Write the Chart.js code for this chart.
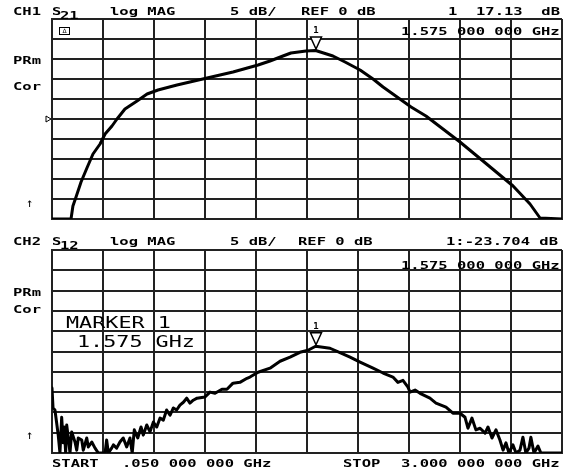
<!DOCTYPE html>
<html>
<head>
<meta charset="utf-8">
<script src="https://cdn.jsdelivr.net/npm/chart.js@4"></script>
<style>
  body { margin: 0; background: #fff; width: 565px; height: 473px; overflow: hidden; position: relative; }
  canvas { position: absolute; left: 0; }
  .t { position: absolute; font-family: 'DejaVu Sans Mono', monospace; font-size: 10px; line-height: 10px;
       font-weight: bold; white-space: pre; color: #000; transform: scaleX(1.55); transform-origin: 0 0; }
  .big { font-size: 15px; line-height: 15px; font-weight: normal; transform: scaleX(1.45); }
  .arrow { font-size: 12px; line-height: 12px; font-weight: normal; transform: none; }
  .icon { position: absolute; left: 59px; top: 27px; width: 9px; height: 6px; border: 1px solid #000;
          font: 6px/6px 'DejaVu Sans', sans-serif; text-align: center; }
</style>
</head>
<body>
<canvas id="ch1" width="565" height="235" style="top:0"></canvas>
<canvas id="ch2" width="565" height="238" style="top:235px"></canvas>

<!-- channel 1 annotations -->
<div class="t" style="left:13px;top:7px">CH1</div>
<div class="t" style="left:52px;top:7px">S</div>
<div class="t" style="left:60px;top:11px">21</div>
<div class="t" style="left:110px;top:7px">log MAG</div>
<div class="t" style="left:230px;top:7px">5 dB/</div>
<div class="t" style="left:301px;top:7px">REF 0 dB</div>
<div class="t" style="left:448px;top:7px">1  17.13  dB</div>
<div class="icon">Δ</div>
<div class="t" style="left:401px;top:27px">1.575 000 000 GHz</div>
<div class="t" style="left:13px;top:56px">PRm</div>
<div class="t" style="left:13px;top:82px">Cor</div>
<div class="t arrow" style="left:26px;top:197px">↑</div>

<!-- channel 2 annotations -->
<div class="t" style="left:13px;top:237px">CH2</div>
<div class="t" style="left:52px;top:237px">S</div>
<div class="t" style="left:60px;top:241px">12</div>
<div class="t" style="left:110px;top:237px">log MAG</div>
<div class="t" style="left:230px;top:237px">5 dB/</div>
<div class="t" style="left:298px;top:237px">REF 0 dB</div>
<div class="t" style="left:446px;top:237px">1:-23.704 dB</div>
<div class="t" style="left:401px;top:261px">1.575 000 000 GHz</div>
<div class="t" style="left:13px;top:288px">PRm</div>
<div class="t" style="left:13px;top:305px">Cor</div>
<div class="t big" style="left:66px;top:316px">MARKER 1</div>
<div class="t big" style="left:77px;top:335px">1.575 GHz</div>
<div class="t arrow" style="left:26px;top:429px">↑</div>
<div class="t" style="left:52px;top:459px">START</div>
<div class="t" style="left:122px;top:459px">.050 000 000 GHz</div>
<div class="t" style="left:343px;top:459px">STOP</div>
<div class="t" style="left:401px;top:459px">3.000 000 000 GHz</div>

<script>
// Sweep grid: 10 divisions from START to STOP (GHz)
const freqTicks = [0.05, 0.345, 0.64, 0.935, 1.23, 1.525, 1.82, 2.115, 2.41, 2.705, 3.0];
// 5 dB per division
const ch1DbTicks = [-25, -20, -15, -10, -5, 0, 5, 10, 15, 20, 25];
const ch2DbTicks = [-50, -45, -40, -35, -30, -25, -20, -15, -10, -5, 0];

// Marker 1 readouts
const marker1Freq = 1.575;
const s21Marker = 17.13;
const s12Marker = -23.704;

// S21 trace, [GHz, dB]
const s21Trace = [
  [0.050, -25], [0.160, -25], [0.171, -21.75], [0.189, -19.5], [0.218, -15.75],
  [0.252, -12.25], [0.287, -8.75], [0.328, -6.25], [0.357, -3.75], [0.397, -1.75],
  [0.426, 0], [0.472, 2.5], [0.542, 4.5], [0.600, 6.25], [0.663, 7.25],
  [0.773, 8.5], [0.947, 10.25], [1.097, 11.75], [1.242, 13.5], [1.311, 14.5],
  [1.386, 15.75], [1.432, 16.5], [1.519, 17.0], [1.575, 17.13], [1.675, 15.75],
  [1.745, 14.25], [1.832, 12.25], [1.907, 10.0], [1.965, 8.0], [2.127, 3.0],
  [2.213, 0.75], [2.410, -5.75], [2.543, -10.5], [2.717, -16.75], [2.815, -21.25],
  [2.873, -24.75], [3.000, -25]
];

// S12 trace, [GHz, dB]
const s12Trace = [
  [0.050, -34.0], [0.056, -38.9], [0.067, -39.4], [0.077, -42.6], [0.086, -45.6],
  [0.096, -50], [0.106, -41.2], [0.115, -47.5], [0.121, -43.6], [0.129, -50],
  [0.135, -43.1], [0.144, -46.1], [0.154, -50], [0.164, -44.8], [0.183, -47.3],
  [0.193, -49.3], [0.202, -46.3], [0.222, -46.8], [0.231, -49.3], [0.251, -46.3],
  [0.260, -48.5], [0.280, -47.3], [0.299, -48.8], [0.318, -50], [0.357, -50],
  [0.366, -46.8], [0.376, -50], [0.395, -48.8], [0.405, -48.0], [0.424, -48.8],
  [0.443, -47.3], [0.462, -46.3], [0.482, -48.5], [0.501, -46.3], [0.514, -50],
  [0.526, -44.3], [0.546, -46.3], [0.565, -43.6], [0.578, -45.6], [0.598, -43.1],
  [0.617, -44.8], [0.636, -42.4], [0.656, -43.6], [0.675, -41.4], [0.694, -41.9],
  [0.713, -39.4], [0.733, -40.7], [0.752, -38.9], [0.771, -39.4], [0.790, -38.2],
  [0.810, -37.5], [0.829, -36.5], [0.848, -37.7], [0.867, -37.0], [0.889, -36.5],
  [0.935, -36.2], [0.964, -35.0], [0.993, -35.3], [1.033, -34.3], [1.062, -34.3],
  [1.097, -32.8], [1.137, -32.6], [1.178, -31.6], [1.195, -31.3], [1.242, -30.1],
  [1.311, -29.1], [1.369, -27.4], [1.427, -26.4], [1.484, -25.2], [1.531, -24.7],
  [1.575, -23.704], [1.658, -24.2], [1.722, -25.4], [1.774, -26.4], [1.832, -27.6],
  [1.907, -29.1], [1.965, -30.3], [2.022, -31.3], [2.051, -32.6], [2.080, -32.1],
  [2.109, -33.8], [2.121, -35.0], [2.150, -34.5], [2.179, -35.3], [2.236, -36.5],
  [2.271, -37.7], [2.329, -38.7], [2.369, -40.2], [2.410, -40.2], [2.439, -41.2],
  [2.456, -43.9], [2.479, -41.4], [2.502, -44.3], [2.526, -43.9], [2.555, -45.1],
  [2.572, -43.6], [2.595, -46.3], [2.618, -44.3], [2.641, -46.8], [2.659, -49.3],
  [2.676, -47.5], [2.693, -50], [2.716, -48.0], [2.734, -50], [2.757, -49.3],
  [2.774, -46.1], [2.791, -50], [2.809, -48.8], [2.820, -46.1], [2.838, -50],
  [2.861, -48.3], [2.878, -50], [3.000, -50]
];

// Marker triangle with its number, plus the reference-level pointer
const markerPlugin = {
  id: 'marker',
  afterDatasetsDraw(chart, args, opts) {
    const { ctx, chartArea, scales: { x, y } } = chart;
    const px = Math.round(x.getPixelForValue(opts.freq));
    const tip = y.getPixelForValue(opts.value) - 1.5;
    ctx.save();
    ctx.beginPath();
    ctx.moveTo(px - 5.5, tip - 12);
    ctx.lineTo(px + 5.5, tip - 12);
    ctx.lineTo(px, tip);
    ctx.closePath();
    ctx.fillStyle = '#fff';
    ctx.fill();
    ctx.lineWidth = 1.5;
    ctx.strokeStyle = '#000';
    ctx.stroke();
    ctx.fillStyle = '#000';
    ctx.font = 'bold 9px "DejaVu Sans Mono"';
    ctx.textAlign = 'center';
    ctx.fillText('1', px, tip - 16);
    if (opts.refLevel !== undefined) {
      const ry = Math.round(y.getPixelForValue(opts.refLevel));
      const rx = chartArea.left - 1;
      ctx.beginPath();
      ctx.moveTo(rx - 5, ry - 3);
      ctx.lineTo(rx, ry);
      ctx.lineTo(rx - 5, ry + 3);
      ctx.closePath();
      ctx.lineWidth = 1;
      ctx.stroke();
    }
    ctx.restore();
  }
};

function axis(min, max, ticks) {
  return {
    type: 'linear', min, max,
    afterBuildTicks: s => { s.ticks = ticks.map(v => ({ value: v })); },
    ticks: { display: false },
    grid: { color: '#222', lineWidth: 2, drawTicks: false },
    border: { color: '#222', width: 2 }
  };
}

function traceChart(id, trace, dbTicks, padding, marker) {
  return new Chart(document.getElementById(id), {
    type: 'line',
    data: {
      datasets: [{
        data: trace.map(([f, db]) => ({ x: f, y: db })),
        borderColor: '#000', borderWidth: 3, pointRadius: 0, tension: 0,
        borderJoinStyle: 'round', borderCapStyle: 'round', fill: false
      }]
    },
    options: {
      responsive: false, animation: false, devicePixelRatio: 1,
      layout: { padding },
      plugins: { legend: { display: false }, tooltip: { enabled: false }, marker },
      scales: {
        x: axis(freqTicks[0], freqTicks[freqTicks.length - 1], freqTicks),
        y: axis(dbTicks[0], dbTicks[dbTicks.length - 1], dbTicks)
      }
    },
    plugins: [markerPlugin]
  });
}

traceChart('ch1', s21Trace, ch1DbTicks, { left: 52, top: 19, right: 3, bottom: 16 },
  { freq: marker1Freq, value: s21Marker, refLevel: 0 });
traceChart('ch2', s12Trace, ch2DbTicks, { left: 52, top: 15, right: 3, bottom: 20 },
  { freq: marker1Freq, value: s12Marker });
</script>
</body>
</html>
